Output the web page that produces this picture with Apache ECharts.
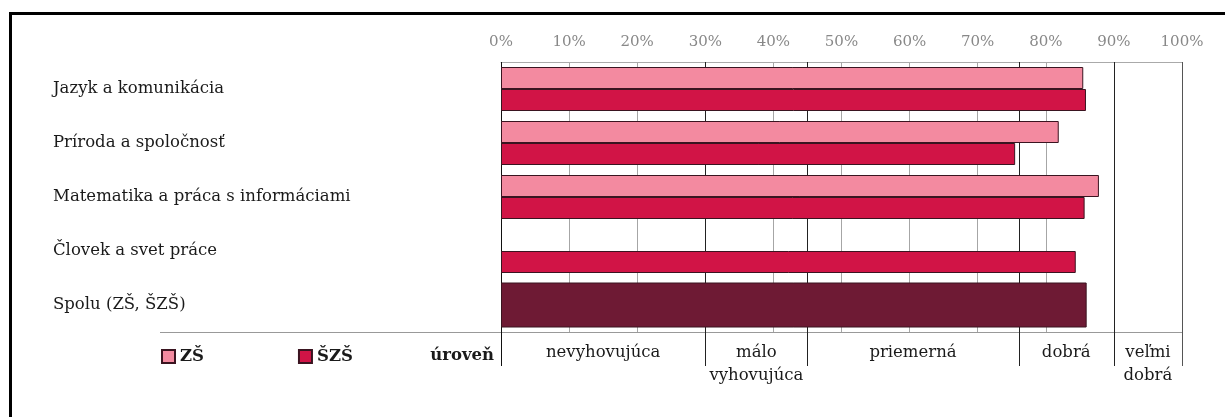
<!DOCTYPE html>
<html>
<head>
<meta charset="utf-8">
<script src="https://cdn.jsdelivr.net/npm/echarts@6/dist/echarts.min.js"></script>
<style>
  html, body { margin: 0; padding: 0; background: #fff; }
  #chart { width: 1225px; height: 417px; }
</style>
</head>
<body>
<div id="chart"></div>
<script>
// kategórie (riadky zhora nadol)
const categories = [
  'Jazyk a komunikácia',
  'Príroda a spoločnosť',
  'Matematika a práca s informáciami',
  'Človek a svet práce',
  'Spolu (ZŠ, ŠZŠ)'
]
// úspešnosť v %
const zsValues = [85.5, 81.9, 87.8, null, null]
const szsValues = [85.9, 75.5, 85.7, 84.4, null]
const spoluValues = [null, null, null, null, 86.0]

// hranice úrovní a ich názvy
const levelBounds = [0, 30, 45, 76, 90, 100]
const levelNames = ['nevyhovujúca', 'málo\nvyhovujúca', 'priemerná', 'dobrá', 'veľmi\ndobrá']

const FONT = '"DejaVu Serif", "Liberation Serif", serif'
const BORDER = '#3a1420'
const TEXT = '#1a1a1a'

const toBar = arr => arr.map(v => (v == null ? '-' : v))

const chart = echarts.init(document.getElementById('chart'), null, { renderer: 'canvas' })

// zvislé čiary hraníc úrovní + popisy pod grafom
function renderLevel(params, api) {
  const x0 = api.value(0)
  const x1 = api.value(1)
  const top = api.coord([x0, 1])
  const bottom = api.coord([x0, 0])
  const xr = api.coord([x1, 0])[0]
  const line = (x, color) => ({
    type: 'line',
    shape: { x1: Math.round(x) + 0.5, y1: top[1], x2: Math.round(x) + 0.5, y2: bottom[1] },
    style: { stroke: color, lineWidth: 1 }
  })
  const children = [line(top[0], params.dataIndex === 0 ? '#111' : '#222')]
  if (params.dataIndex === levelNames.length - 1) children.push(line(xr, '#555'))
  children.push({
    type: 'text',
    style: {
      text: levelNames[params.dataIndex],
      x: (top[0] + xr) / 2,
      y: bottom[1] - 25,
      align: 'center',
      verticalAlign: 'top',
      font: '16.5px ' + FONT,
      lineHeight: 23,
      fill: TEXT
    }
  })
  return { type: 'group', children }
}

chart.setOption({
  animation: false,
  backgroundColor: '#fff',
  grid: [
    { left: 501, right: 43, top: 62, height: 270, outerBoundsMode: 'none' },
    { left: 501, right: 43, top: 62, height: 304, outerBoundsMode: 'none' }
  ],
  legend: {
    data: ['ZŠ', 'ŠZŠ'],
    left: 161,
    top: 348,
    padding: 0,
    icon: 'rect',
    itemWidth: 13,
    itemHeight: 13,
    itemGap: 94,
    textStyle: { fontFamily: FONT, fontSize: 16.5, fontWeight: 'bold', color: TEXT }
  },
  xAxis: [
    {
      type: 'value',
      gridIndex: 0,
      position: 'top',
      min: 0,
      max: 100,
      interval: 10,
      axisLine: { show: true, lineStyle: { color: '#aaa', width: 1 } },
      axisTick: { show: false },
      axisLabel: {
        formatter: '{value}%',
        color: '#888',
        fontFamily: FONT,
        fontSize: 15,
        margin: 12
      },
      splitLine: { show: true, lineStyle: { color: '#a6a6a6', width: 1 } }
    },
    { type: 'value', gridIndex: 1, min: 0, max: 100, show: false }
  ],
  yAxis: [
    {
      type: 'category',
      gridIndex: 0,
      data: categories,
      inverse: true,
      axisLine: { show: false },
      axisTick: { show: false },
      splitLine: { show: false },
      axisLabel: {
        align: 'left',
        margin: 448,
        color: TEXT,
        fontFamily: FONT,
        fontSize: 16.5
      }
    },
    { type: 'category', gridIndex: 0, data: categories, inverse: true, show: false },
    { type: 'value', gridIndex: 1, min: 0, max: 1, show: false }
  ],
  series: [
    {
      name: 'ZŠ',
      type: 'bar',
      xAxisIndex: 0,
      yAxisIndex: 0,
      data: toBar(zsValues),
      barWidth: 22,
      barGap: '0%',
      z: 3,
      itemStyle: { color: '#f38aa0', borderColor: BORDER, borderWidth: 1 }
    },
    {
      name: 'ŠZŠ',
      type: 'bar',
      xAxisIndex: 0,
      yAxisIndex: 0,
      data: toBar(szsValues),
      barWidth: 22,
      barGap: '0%',
      z: 3,
      itemStyle: { color: '#d11446', borderColor: BORDER, borderWidth: 1 }
    },
    {
      name: 'Spolu',
      type: 'bar',
      xAxisIndex: 0,
      yAxisIndex: 1,
      data: toBar(spoluValues),
      barWidth: 45,
      z: 3,
      itemStyle: { color: '#6e1a34', borderColor: BORDER, borderWidth: 1 }
    },
    {
      type: 'custom',
      xAxisIndex: 1,
      yAxisIndex: 2,
      z: 1,
      silent: true,
      renderItem: renderLevel,
      encode: { x: [0, 1] },
      data: levelNames.map((n, i) => [levelBounds[i], levelBounds[i + 1]])
    }
  ],
  graphic: [
    // rámček
    {
      type: 'polyline',
      shape: { points: [[10.5, 417], [10.5, 13.5], [1225, 13.5]] },
      style: { stroke: '#000', lineWidth: 3, fill: null }
    },
    // spodná čiara
    {
      type: 'line',
      shape: { x1: 160, y1: 332.5, x2: 1182, y2: 332.5 },
      style: { stroke: '#999', lineWidth: 1 }
    },
    {
      type: 'text',
      style: {
        text: 'úroveň',
        x: 494,
        y: 356,
        align: 'right',
        verticalAlign: 'middle',
        font: 'bold 16.5px ' + FONT,
        fill: TEXT
      }
    }
  ]
})
</script>
</body>
</html>
